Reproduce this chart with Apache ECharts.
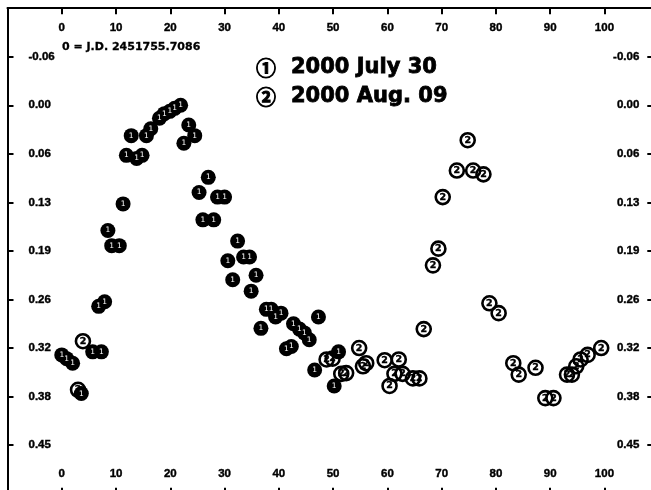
<!DOCTYPE html>
<html>
<head>
<meta charset="utf-8">
<script src="https://cdn.jsdelivr.net/npm/echarts@6/dist/echarts.min.js"></script>
<style>
  html, body { margin: 0; padding: 0; background: #fff; overflow: hidden; }
  /* the frame's right and bottom edges sit just past the visible area */
  #chart { width: 661px; height: 500px; }
</style>
</head>
<body>
<div id="chart"></div>
<script>
// Light curve: phase (time units after J.D. 2451755.7086) vs. differential magnitude
const julyPhase = [0.0, 0.9, 2.0, 3.6, 5.7, 6.8, 7.3, 7.9, 8.5, 9.2, 10.6, 11.3, 11.9, 12.8, 13.8, 14.8,
  15.6, 16.4, 18.0, 18.9, 19.9, 20.8, 21.9, 22.5, 23.4, 24.5, 25.3, 26.0, 27.0, 28.0, 28.7, 30.0,
  30.6, 31.5, 32.4, 33.5, 34.6, 34.9, 35.8, 36.7, 37.7, 38.6, 39.4, 40.4, 41.4, 42.3, 42.7, 43.8,
  44.7, 45.6, 46.6, 47.3, 50.2, 51.0];
const julyMag = [0.329, 0.334, 0.340, 0.380, 0.325, 0.265, 0.325, 0.259, 0.165, 0.185, 0.185, 0.130, 0.066, 0.040, 0.070, 0.066,
  0.040, 0.031, 0.017, 0.011, 0.008, 0.004, 0.000, 0.050, 0.026, 0.040, 0.115, 0.151, 0.095, 0.151, 0.121, 0.121,
  0.205, 0.230, 0.179, 0.200, 0.200, 0.245, 0.224, 0.294, 0.269, 0.269, 0.279, 0.274, 0.321, 0.318, 0.288, 0.295,
  0.300, 0.309, 0.349, 0.279, 0.370, 0.325];

const augPhase = [3.0, 3.9, 48.8, 49.9, 51.5, 52.4, 54.8, 55.5, 56.1, 59.5, 60.4, 61.3, 62.1, 62.8, 64.7, 65.9,
  66.7, 68.4, 69.4, 70.2, 72.8, 74.8, 75.8, 77.7, 78.8, 80.5, 83.2, 84.2, 87.3, 89.1, 90.6, 93.1,
  94.0, 94.8, 95.6, 96.9, 99.4];
const augMag = [0.375, 0.311, 0.335, 0.334, 0.354, 0.353, 0.320, 0.344, 0.340, 0.336, 0.370, 0.354, 0.335, 0.354, 0.360, 0.360,
  0.295, 0.211, 0.189, 0.121, 0.086, 0.046, 0.086, 0.091, 0.261, 0.274, 0.340, 0.355, 0.346, 0.386, 0.386, 0.355,
  0.355, 0.344, 0.335, 0.329, 0.320];

const xTickLabels = ['0', '10', '20', '30', '40', '50', '60', '70', '80', '90', '100'];
const yTickLabels = ['-0.06', '0.00', '0.06', '0.13', '0.19', '0.26', '0.32', '0.38', '0.45'];

const X_STEP = 10;
const Y_STEP = 0.064;

const labelFont = {
  color: '#000',
  fontFamily: 'Liberation Sans',
  fontWeight: 'bold',
  fontSize: 11.5,
  textBorderColor: '#000',
  textBorderWidth: 0.4
};

function xLabel(v) {
  const i = Math.round(v / X_STEP);
  return (i >= 0 && i < xTickLabels.length) ? xTickLabels[i] : '';
}
function yLabel(v) {
  const i = Math.round(v / Y_STEP) + 1;
  return (i >= 0 && i < yTickLabels.length) ? yTickLabels[i] : '';
}

const axisLine = { show: true, onZero: false, lineStyle: { color: '#000', width: 2 } };
const axisTick = { show: true, inside: true, length: 6, lineStyle: { color: '#000', width: 2 } };

function xAxisDef(position, margin) {
  return {
    type: 'value', position: position,
    min: -X_STEP, max: 109, interval: X_STEP,
    axisLine: axisLine, axisTick: axisTick,
    axisLabel: Object.assign({ inside: true, margin: margin, formatter: xLabel }, labelFont),
    splitLine: { show: false }
  };
}
function yAxisDef(position, margin) {
  return {
    type: 'value', position: position, inverse: true,
    min: -2 * Y_STEP, max: 8 * Y_STEP, interval: Y_STEP,
    axisLine: axisLine, axisTick: axisTick,
    axisLabel: Object.assign({ inside: true, margin: margin, formatter: yLabel }, labelFont),
    splitLine: { show: false }
  };
}

const chart = echarts.init(document.getElementById('chart'), null, { renderer: 'canvas' });

chart.setOption({
  animation: false,
  backgroundColor: '#fff',
  grid: { left: 7.5, right: 7.7, top: 8.2, bottom: 6.3 },
  xAxis: [xAxisDef('top', 14), xAxisDef('bottom', 14)],
  yAxis: [yAxisDef('left', 21), yAxisDef('right', 14)],
  series: [
    {
      name: '2000 Aug. 09',
      type: 'scatter',
      xAxisIndex: 0, yAxisIndex: 0,
      data: augPhase.map((x, i) => [x, augMag[i]]),
      symbol: 'circle',
      symbolSize: 14,
      itemStyle: { color: 'rgba(255,255,255,0)', borderColor: '#000', borderWidth: 2.6, opacity: 1 },
      label: {
        show: true, position: 'inside', formatter: '2',
        color: '#000', fontSize: 9.5, fontWeight: 'bold', fontFamily: 'DejaVu Sans',
        textBorderColor: '#000', textBorderWidth: 0.4
      },
      emphasis: { disabled: true },
      z: 2
    },
    {
      name: '2000 July 30',
      type: 'scatter',
      xAxisIndex: 0, yAxisIndex: 0,
      data: julyPhase.map((x, i) => [x, julyMag[i]]),
      symbol: 'circle',
      symbolSize: 15,
      itemStyle: { color: '#000', opacity: 1 },
      label: {
        show: true, position: 'inside', formatter: '1',
        color: '#fff', fontSize: 7.5, fontFamily: 'DejaVu Sans'
      },
      emphasis: { disabled: true },
      z: 3
    }
  ],
  graphic: [
    {
      type: 'text', x: 62, y: 47, z: 10,
      style: { text: '0 = J.D. 2451755.7086', font: 'bold 11px "DejaVu Sans"', fill: '#000',
        verticalAlign: 'middle', stroke: '#000', lineWidth: 0.3 }
    },
    {
      type: 'text', x: 266, y: 68, z: 10,
      style: { text: '\u2460', font: 'bold 20px "Noto Sans CJK SC"', fill: '#000',
        align: 'center', verticalAlign: 'middle', stroke: '#000', lineWidth: 1 }
    },
    {
      type: 'text', x: 291, y: 68, z: 10,
      style: { text: '2000 July 30', font: 'bold 21px "DejaVu Sans"', fill: '#000',
        verticalAlign: 'middle', stroke: '#000', lineWidth: 0.8 }
    },
    {
      type: 'text', x: 266, y: 97, z: 10,
      style: { text: '\u2461', font: 'bold 20px "Noto Sans CJK SC"', fill: '#000',
        align: 'center', verticalAlign: 'middle', stroke: '#000', lineWidth: 1 }
    },
    {
      type: 'text', x: 291, y: 97, z: 10,
      style: { text: '2000 Aug. 09', font: 'bold 21px "DejaVu Sans"', fill: '#000',
        verticalAlign: 'middle', stroke: '#000', lineWidth: 0.8 }
    }
  ]
});
</script>
</body>
</html>
